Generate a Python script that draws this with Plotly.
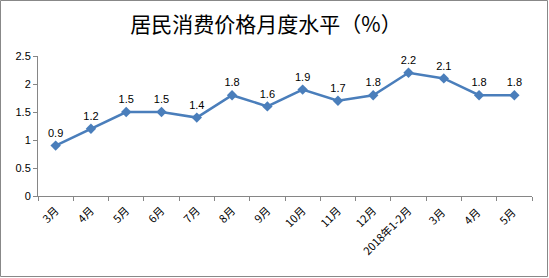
import plotly.graph_objects as go

categories = ["3月", "4月", "5月", "6月", "7月", "8月", "9月", "10月", "11月", "12月",
              "2018年1-2月", "3月 ", "4月 ", "5月 "]
values = [0.9, 1.2, 1.5, 1.5, 1.4, 1.8, 1.6, 1.9, 1.7, 1.8, 2.2, 2.1, 1.8, 1.8]
labels = ["0.9", "1.2", "1.5", "1.5", "1.4", "1.8", "1.6", "1.9", "1.7", "1.8", "2.2", "2.1", "1.8", "1.8"]
title = "居民消费价格月度水平（%）"

W, H = 549, 278
L, R, T, B = 38, 17, 56, 82
pw, ph = W - L - R, H - T - B

fig = go.Figure()
fig.add_trace(go.Scatter(
    x=categories, y=values,
    mode="lines+markers+text",
    text=labels, textposition="top center",
    textfont=dict(size=11, color="#000000", family="Liberation Sans, Arial"),
    line=dict(color="#4A7EBB", width=2.5),
    marker=dict(symbol="diamond", size=8, color="#4A7EBB"),
    cliponaxis=False,
    hoverinfo="skip",
))

def px2x(px):
    return (px - L) / pw

def py2y(py):
    return (H - B - py) / ph

fig.add_shape(type="rect", xref="paper", yref="paper",
              x0=px2x(0.5), x1=px2x(W - 1.5), y0=py2y(H - 1.5), y1=py2y(0.5),
              line=dict(color="#888888", width=1), fillcolor="rgba(0,0,0,0)", layer="below")

fig.update_layout(
    width=W, height=H,
    margin=dict(l=L, r=R, t=T, b=B),
    paper_bgcolor="white", plot_bgcolor="white",
    showlegend=False,
    title=dict(text=title, x=px2x(266), xref="paper", xanchor="center",
               y=1 - 25 / H, yref="container", yanchor="middle",
               font=dict(size=21, color="#000000", family="Noto Sans CJK SC")),
    font=dict(family="Liberation Sans, Arial", size=11, color="#000000"),
)
fig.update_xaxes(
    type="category", categoryorder="array", categoryarray=categories,
    range=[-0.5, len(categories) - 0.5], automargin=False,
    tickson="boundaries",
    tickangle=-45, showgrid=False, zeroline=False,
    showline=True, linecolor="#868686", linewidth=1,
    ticks="outside", ticklen=4, tickcolor="#868686",
    tickfont=dict(size=11, family="Noto Sans CJK SC"),
    ticklabelstandoff=3,
)
fig.update_yaxes(
    range=[0, 2.5], dtick=0.5, automargin=False,
    showgrid=False, zeroline=False,
    showline=True, linecolor="#868686", linewidth=1,
    ticks="outside", ticklen=4, tickcolor="#868686",
    tickfont=dict(size=11, family="Liberation Sans, Arial"),
)
fig.write_html("out.html")
